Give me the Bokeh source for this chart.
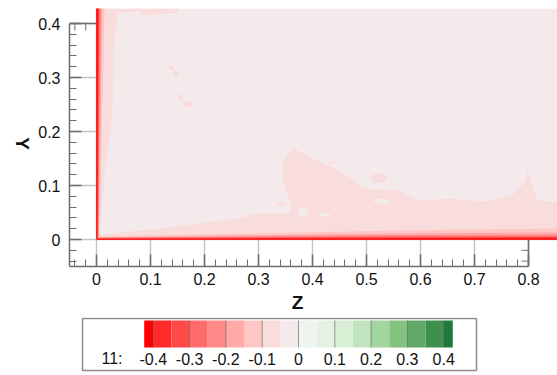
import numpy as np
from bokeh.plotting import figure
from bokeh.layouts import column, row
from bokeh.models import Range1d, FixedTicker
from bokeh.core.properties import value
from bokeh.embed import file_html
from bokeh.resources import INLINE

# ---------------------------------------------------------------------------
# Contour levels and their fill colours (red = negative, green = positive)
# ---------------------------------------------------------------------------
levels = [-0.4, -0.35, -0.3, -0.25, -0.2, -0.15, -0.1, -0.05, 0.0,
          0.05, 0.1, 0.15, 0.2, 0.25, 0.3, 0.35, 0.4]
level_colors = ["#ff0000", "#ff2b2b", "#ff4a4a", "#ff6b6b", "#ff8989", "#ffa9a9",
                "#ffc6c6", "#f9dcdc", "#f5eaeb", "#eef5ee", "#e4f1e4", "#d8efd5",
                "#c1e4be", "#a3d59e", "#84c37f", "#62a866", "#3f904e", "#1c7a3a"]
legend_values = [-0.4, -0.3, -0.2, -0.1, 0.0, 0.1, 0.2, 0.3, 0.4]
legend_labels = ["-0.4", "-0.3", "-0.2", "-0.1", "0", "0.1", "0.2", "0.3", "0.4"]
legend_title = "11:"

# axis ticks
z_ticks = [0.0, 0.1, 0.2, 0.3, 0.4, 0.5, 0.6, 0.7, 0.8]
z_tick_labels = ["0", "0.1", "0.2", "0.3", "0.4", "0.5", "0.6", "0.7", "0.8"]
y_ticks = [0.0, 0.1, 0.2, 0.3, 0.4]
y_tick_labels = ["0", "0.1", "0.2", "0.3", "0.4"]

# ---------------------------------------------------------------------------
# Field geometry (Z, Y)
# ---------------------------------------------------------------------------
field_z_max = 0.86
field_y_max = 0.428

# region of the -0.1 .. -0.05 band: along the top, the Z = 0 wall and Y = 0 wall
band_z = [0.0, 0.152, 0.152, 0.133, 0.083, 0.078, 0.059, 0.041, 0.037, 0.035,
          0.031, 0.031, 0.030, 0.026, 0.020, 0.015, 0.011, 0.006, 0.002, 0.022,
          0.109, 0.231, 0.276, 0.287, 0.359, 0.361, 0.354, 0.346, 0.343, 0.346,
          0.359, 0.365, 0.383, 0.409, 0.439, 0.470, 0.494, 0.531, 0.563, 0.594,
          0.656, 0.717, 0.767, 0.780, 0.794, 0.798, 0.804, 0.817, 0.854, 0.86,
          0.86, 0.0]
band_y = [0.428, 0.428, 0.420, 0.419, 0.415, 0.424, 0.421, 0.420, 0.406, 0.387,
          0.350, 0.294, 0.257, 0.202, 0.165, 0.119, 0.072, 0.026, 0.007, 0.011,
          0.019, 0.035, 0.041, 0.048, 0.048, 0.063, 0.081, 0.109, 0.137, 0.146,
          0.165, 0.169, 0.159, 0.146, 0.133, 0.115, 0.096, 0.091, 0.091, 0.072,
          0.076, 0.070, 0.081, 0.091, 0.109, 0.131, 0.109, 0.072, 0.069, 0.069,
          0.0, 0.0]

# isolated spots of the -0.1 .. -0.05 band
spot_z = [0.138, 0.147, 0.103, 0.155, 0.169, 0.344, 0.523, 0.436]
spot_y = [0.318, 0.307, 0.286, 0.262, 0.251, 0.065, 0.113, 0.143]
spot_w = [0.009, 0.009, 0.006, 0.007, 0.017, 0.018, 0.031, 0.013]
spot_h = [0.009, 0.013, 0.006, 0.017, 0.011, 0.007, 0.018, 0.005]
spot_a = [0.0, 0.4, 0.0, 0.5, -0.4, 0.0, 0.0, 0.0]

# holes of the -0.05 .. 0 level inside the band
hole_z = [0.382, 0.422, 0.529]
hole_y = [0.050, 0.046, 0.071]
hole_w = [0.020, 0.022, 0.031]
hole_h = [0.018, 0.007, 0.009]

# wall layers, outermost (-0.15) to innermost (-0.4):
# thickness on the Z = 0 wall (top, bottom) and on the Y = 0 wall (left, mid, right)
wall_levels = [6, 5, 4, 3, 2, 1, 0]
wall_left_top = [0.0148, 0.0111, 0.0083, 0.0065, 0.0048, 0.0035, 0.0022]
wall_left_bot = [0.0056, 0.0041, 0.0033, 0.0026, 0.0020, 0.0017, 0.0011]
wall_bot_left = [0.0056, 0.0041, 0.0033, 0.0026, 0.0020, 0.0017, 0.0011]
wall_bot_mid = [0.0167, 0.0111, 0.0083, 0.0059, 0.0041, 0.0030, 0.0019]
wall_bot_right = [0.0204, 0.0130, 0.0093, 0.0067, 0.0048, 0.0033, 0.0020]
wall_mid_z = 0.56

# ---------------------------------------------------------------------------
PX = 540.0                      # screen pixels per unit length
AXIS_GRAY = "#6e6e6e"
FONT = "Liberation Sans"
FRAME_L, FRAME_R = 69, 557      # frame edges (canvas pixels) of the field panel
TITLE_W = 35                    # width of the strip carrying the Y title
TOP_H = 317                     # height of the field panel
NBSP = "\u00a0"

y_range = Range1d(-0.05, -0.05 + 258 / PX)

p = figure(width=557 - TITLE_W, height=TOP_H,
           x_range=Range1d(-0.05, -0.05 + (FRAME_R - FRAME_L) / PX),
           y_range=y_range,
           toolbar_location=None, output_backend="svg", title=None,
           min_border_left=FRAME_L - TITLE_W, min_border_right=0,
           min_border_top=8, min_border_bottom=TOP_H - 266)
p.outline_line_color = None
p.background_fill_color = "white"
p.border_fill_color = "white"

# axes
for ax, ticks, labels in ((p.xaxis[0], z_ticks, z_tick_labels),
                          (p.yaxis[0], y_ticks, y_tick_labels)):
    minor = [round(v, 2) for v in np.arange(-0.04, ticks[-1] + 0.001, 0.02)]
    ax.ticker = FixedTicker(ticks=ticks, minor_ticks=minor)
    ax.bounds = (-0.05, ticks[-1])
    ax.major_label_overrides = {t: s for t, s in zip(ticks, labels)}
    ax.axis_line_color = AXIS_GRAY
    ax.axis_line_width = 1.5
    ax.major_tick_in = 12
    ax.major_tick_out = 0
    ax.minor_tick_in = 7
    ax.minor_tick_out = 0
    ax.major_tick_line_color = AXIS_GRAY
    ax.major_tick_line_width = 1.5
    ax.minor_tick_line_color = AXIS_GRAY
    ax.minor_tick_line_width = 1
    ax.major_label_text_font = FONT
    ax.major_label_text_font_size = "16px"
    ax.major_label_text_color = "#111111"
    ax.axis_label_text_font = FONT
    ax.axis_label_text_font_size = "19px"
    ax.axis_label_text_font_style = "bold"
    ax.axis_label_text_color = "#111111"
p.xaxis.major_label_standoff = 6
p.yaxis.major_label_standoff = 9
# the Z title is centred under the bounded axis rather than the wider frame
p.xaxis.axis_label = "Z" + NBSP * 6
p.xaxis.axis_label_standoff = 4

p.xgrid.ticker = FixedTicker(ticks=z_ticks)
p.ygrid.ticker = FixedTicker(ticks=y_ticks)
for g in (p.xgrid[0], p.ygrid[0]):
    g.grid_line_color = "#c4c4c4"
    g.grid_line_width = 1.5

# remaining pieces of the frame (top-left and bottom-right stubs)
tick = 7 / PX
p.segment(x0=[-0.05, 0.8], y0=[0.4, -0.05], x1=[0.0, 0.8], y1=[0.4, 0.0],
          line_color=AXIS_GRAY, line_width=1.5)
p.segment(x0=[-0.04, -0.02], y0=[0.4, 0.4], x1=[-0.04, -0.02], y1=[0.4 - tick, 0.4 - tick],
          line_color=AXIS_GRAY, line_width=1)
p.segment(x0=[0.8, 0.8], y0=[-0.04, -0.02], x1=[0.8 - tick, 0.8 - tick], y1=[-0.04, -0.02],
          line_color=AXIS_GRAY, line_width=1)

# field
p.quad(left=0, right=field_z_max, bottom=0, top=field_y_max,
       fill_color=level_colors[8], line_color=None)
p.patch(band_z, band_y, fill_color=level_colors[7], line_color=None)
p.ellipse(x=spot_z, y=spot_y, width=spot_w, height=spot_h, angle=spot_a,
          fill_color=level_colors[7], line_color=None)
p.ellipse(x=hole_z, y=hole_y, width=hole_w, height=hole_h,
          fill_color=level_colors[8], line_color=None)
for k, lvl in enumerate(wall_levels):
    zs = [0.0, wall_left_top[k], wall_left_bot[k], wall_mid_z, field_z_max, field_z_max, 0.0]
    ys = [field_y_max, field_y_max, wall_bot_left[k], wall_bot_mid[k], wall_bot_right[k], 0.0, 0.0]
    p.patch(zs, ys, fill_color=level_colors[lvl], line_color=None)

# ---------------------------------------------------------------------------
# Narrow strip left of the field panel holding the rotated Y title
# (shares the field's Y range; x in pixels)
# ---------------------------------------------------------------------------
ytitle = figure(width=TITLE_W, height=TOP_H, x_range=Range1d(0, TITLE_W), y_range=y_range,
                toolbar_location=None, output_backend="svg", title=None,
                min_border_left=0, min_border_right=0,
                min_border_top=8, min_border_bottom=TOP_H - 266)
ytitle.axis.visible = False
ytitle.grid.visible = False
ytitle.outline_line_color = None
ytitle.background_fill_color = "white"
ytitle.border_fill_color = "white"
ytitle.text(x=[22], y=[(239 - 143) / PX], text=["Y"], angle=-np.pi / 2,
            text_align="center", text_baseline="middle", text_font=value(FONT),
            text_font_size="19px", text_font_style="bold", text_color="#111111")

# ---------------------------------------------------------------------------
# Colour legend; y is measured downward in pixels from the top of this panel
# ---------------------------------------------------------------------------
LPX = 363.0      # legend pixels per unit of the contoured variable
L0 = 298.0       # legend pixel position of the zero level
LEG_H = 375 - TOP_H
dy = TOP_H       # canvas offset of this panel
leg = figure(width=557, height=LEG_H,
             x_range=Range1d((FRAME_L - L0) / LPX, (FRAME_R - L0) / LPX),
             y_range=Range1d(LEG_H, 0),
             toolbar_location=None, output_backend="svg", title=None,
             min_border_left=FRAME_L, min_border_right=0,
             min_border_top=0, min_border_bottom=0)
leg.axis.visible = False
leg.grid.visible = False
leg.outline_line_color = None
leg.background_fill_color = "white"
leg.border_fill_color = "white"

half = 0.025
edges = [levels[0] - half] + levels + [levels[-1] + half]
bar_top, bar_bot = 320 - dy, 347 - dy
leg.quad(left=edges[:-1], right=edges[1:], top=bar_top, bottom=bar_bot,
         fill_color=level_colors, line_color=None)
leg.segment(x0=legend_values, x1=legend_values, y0=[bar_top] * len(legend_values),
            y1=[bar_bot] * len(legend_values), line_color="#555555", line_alpha=0.6, line_width=1)
leg.quad(left=(82 - L0) / LPX, right=(476 - L0) / LPX, top=1, bottom=370 - dy,
         fill_color=None, line_color="#8c8c8c", line_width=1.5)
leg.text(x=legend_values, y=[358 - dy] * len(legend_values), text=legend_labels,
         text_align="center", text_baseline="middle", text_font=value(FONT),
         text_font_size="16px", text_color="#111111")
leg.text(x=[(111.5 - L0) / LPX], y=[358 - dy], text=[legend_title],
         text_align="center", text_baseline="middle", text_font=value(FONT),
         text_font_size="16px", text_color="#111111")

layout = column(row(ytitle, p, spacing=0), leg, spacing=0)
open("out.html", "w").write(file_html(layout, INLINE))
